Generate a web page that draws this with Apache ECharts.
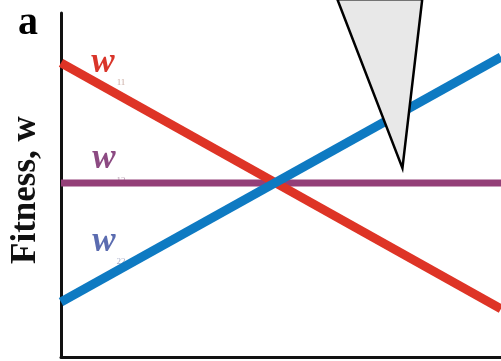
<!DOCTYPE html>
<html>
<head>
<meta charset="utf-8">
<script src="https://cdn.jsdelivr.net/npm/echarts@6/dist/echarts.min.js"></script>
<style>html,body{margin:0;padding:0;background:#fff}#c{width:501px;height:361px}</style>
</head>
<body>
<div id="c"></div>
<script>
// x positions (relative strategy frequency, 0..1)
const xValues = [0, 1];
// fitness values at the left and right ends
const w11 = [0.855, 0.14];
const w12 = [0.506, 0.506];
const w22 = [0.16, 0.872];
// callout pointer triangle (data coordinates)
const pointerX = [0.628, 0.821, 0.776];
const pointerY = [1.04, 1.04, 0.549];

const serif = '"Liberation Serif","DejaVu Serif",serif';
const chart = echarts.init(document.getElementById('c'), null, {renderer: 'canvas'});

function pairs(ys) { return xValues.map((x, i) => [x, ys[i]]); }

chart.setOption({
  animation: false,
  backgroundColor: '#fff',
  grid: {left: 61, right: 0, top: 13, bottom: 4, containLabel: false},
  xAxis: {
    type: 'value', min: 0, max: 1,
    axisLine: {show: true, lineStyle: {color: '#111', width: 3}},
    axisTick: {show: false}, axisLabel: {show: false}, splitLine: {show: false}
  },
  yAxis: {
    type: 'value', min: 0, max: 1,
    axisLine: {show: true, lineStyle: {color: '#111', width: 3}},
    axisTick: {show: false}, axisLabel: {show: false}, splitLine: {show: false}
  },
  series: [
    {type: 'line', data: pairs(w11), symbol: 'none', lineStyle: {color: '#de3426', width: 9}, z: 3},
    {type: 'line', data: pairs(w12), symbol: 'none', lineStyle: {color: '#943f78', width: 7}, z: 2},
    {type: 'line', data: pairs(w22), symbol: 'none', lineStyle: {color: '#0e7ac2', width: 9}, z: 4},
    {
      type: 'custom', clip: false, z: 10,
      data: [0],
      renderItem: function (params, api) {
        const pts = pointerX.map((x, i) => api.coord([x, pointerY[i]]));
        return {type: 'polygon', shape: {points: pts},
          style: {fill: '#e8e8e8', stroke: '#000', lineWidth: 2.5}};
      }
    }
  ],
  graphic: [
    {type: 'text', x: 28, y: 24, style: {text: 'a', font: 'bold 40px ' + serif, fill: '#000', align: 'center', verticalAlign: 'middle'}},
    {type: 'text', x: 26, y: 190, rotation: Math.PI / 2, style: {text: 'Fitness, w', font: 'bold 35px ' + serif, fill: '#111', align: 'center', verticalAlign: 'middle'}},
    {type: 'text', x: 103, y: 63, style: {text: 'w', font: 'italic bold 35px ' + serif, fill: '#d9352a', align: 'center', verticalAlign: 'middle'}},
    {type: 'text', x: 121, y: 83, style: {text: '11', font: '9px ' + serif, fill: '#c9a9a0', align: 'center', verticalAlign: 'middle'}},
    {type: 'text', x: 104, y: 159, style: {text: 'w', font: 'italic bold 35px ' + serif, fill: '#8c4a82', align: 'center', verticalAlign: 'middle'}},
    {type: 'text', x: 121, y: 181, style: {text: '12', font: '9px ' + serif, fill: '#b7a0b0', align: 'center', verticalAlign: 'middle'}},
    {type: 'text', x: 104, y: 242, style: {text: 'w', font: 'italic bold 35px ' + serif, fill: '#5b6cb0', align: 'center', verticalAlign: 'middle'}},
    {type: 'text', x: 121, y: 262, style: {text: '22', font: '9px ' + serif, fill: '#a8aec8', align: 'center', verticalAlign: 'middle'}}
  ]
});
</script>
</body>
</html>
